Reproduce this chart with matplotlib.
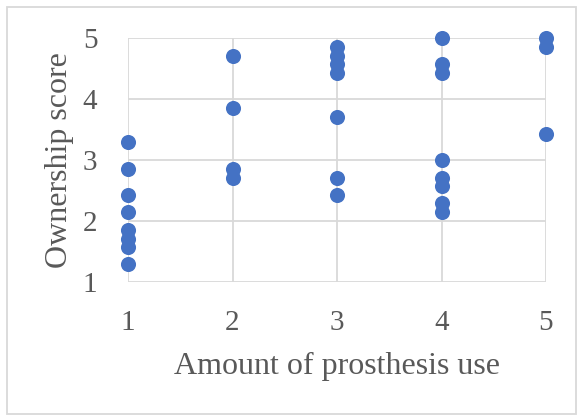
import matplotlib
matplotlib.use("Agg")
import matplotlib.pyplot as plt
from matplotlib.patches import Rectangle

# ---------------------------------------------------------------------------
# Data
# ---------------------------------------------------------------------------

use_1 = [3.29, 2.86, 2.43, 2.14, 1.86, 1.71, 1.57, 1.29]
use_2 = [4.71, 3.86, 2.86, 2.71]
use_3 = [4.86, 4.71, 4.57, 4.43, 3.71, 2.71, 2.43]
use_4 = [5.00, 4.57, 4.43, 3.00, 2.71, 2.57, 2.29, 2.14]
use_5 = [5.00, 4.86, 3.43]

groups = [use_1, use_2, use_3, use_4, use_5]
x_ticks = [1, 2, 3, 4, 5]
y_ticks = [1, 2, 3, 4, 5]

X_LABEL = "Amount of prosthesis use"
Y_LABEL = "Ownership score"

# ---------------------------------------------------------------------------
# Style
# ---------------------------------------------------------------------------

W, H = 578, 415
DOT = "#4472C4"
GRID = "#d9d9d9"
TEXT = "#595959"
plt.rcParams["font.family"] = ["Liberation Serif", "DejaVu Serif"]

fig = plt.figure(figsize=(W / 100, H / 100), dpi=100)

# plot area in pixels: left 128, right 546, top 38, bottom 282
left, right, top, bottom = 128, 546, 38, 282
ax = fig.add_axes([left / W, 1 - bottom / H, (right - left) / W, (bottom - top) / H])

xs = [x for x, g in zip(x_ticks, groups) for _ in g]
ys = [y for g in groups for y in g]
ax.scatter(xs, ys, s=118, color=DOT, zorder=3, clip_on=False, linewidths=0)

ax.set_xlim(1, 5)
ax.set_ylim(1, 5)
ax.set_xticks(x_ticks)
ax.set_yticks(y_ticks)
ax.grid(True, color=GRID, linewidth=1.3, zorder=0)
for s in ax.spines.values():
    s.set_visible(False)
ax.tick_params(length=0, labelsize=21, labelcolor=TEXT)
ax.tick_params(axis="x", pad=20)
ax.tick_params(axis="y", pad=22)

fig.text(337 / W, 1 - 366 / H, X_LABEL, ha="center", va="center",
         fontsize=23, color=TEXT)
fig.text(60 / W, 1 - 160 / H, Y_LABEL, ha="center", va="center",
         rotation=90, fontsize=23, color=TEXT)

# outer chart border
fig.patches.append(Rectangle((7 / W, 1 - 414 / H), 569 / W, 407 / H,
                             transform=fig.transFigure, fill=False,
                             edgecolor=GRID, linewidth=1.3))

fig.savefig("out.png", dpi=100)
